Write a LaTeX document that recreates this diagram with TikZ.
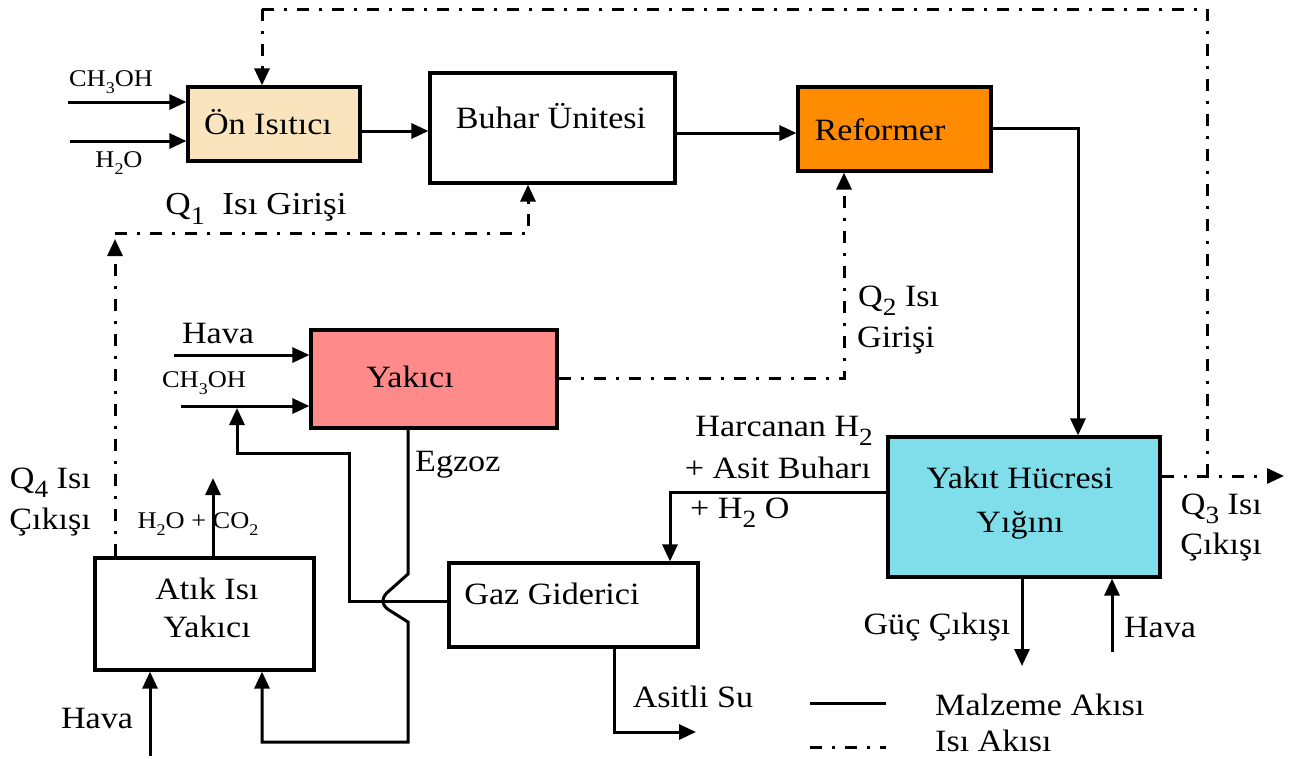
\documentclass[tikz,border=0pt]{standalone}
\usepackage{fontspec}
\usepackage{graphicx}
\setmainfont{Liberation Serif}[FakeStretch=1.1]
\usetikzlibrary{arrows.meta}
\newcommand\fsz[1]{\fontsize{#1}{#1}\selectfont}
\newcommand\chsub[1]{\raisebox{-0.28em}{\scalebox{0.68}{#1}}}
\newcommand\bigsub[1]{\raisebox{-0.3em}{\scalebox{0.8}{#1}}}
\definecolor{beige}{RGB}{250,228,190}
\definecolor{orng}{RGB}{255,140,0}
\definecolor{pinkb}{RGB}{255,138,138}
\definecolor{cyanb}{RGB}{128,222,234}
\tikzset{
  box/.style={draw, line width=3.2pt, inner sep=0pt},
  lbl/.style={inner sep=0pt, font=\fsz{31}},
  small/.style={inner sep=0pt, font=\fsz{24}},
  tip/.style={-{Triangle[length=17pt,width=15pt]}},
  flow/.style={line width=3pt, tip},
  matl/.style={line width=3pt},
  heat/.style={line width=3pt, dash pattern=on 12pt off 10pt on 3pt off 10pt},
  heatarrow/.style={heat, tip},
}
\begin{document}
\begin{tikzpicture}[x=1pt,y=-1pt]
\useasboundingbox (0,0) rectangle (1289,758);

% boxes
\node[box, fill=beige, minimum width=172pt, minimum height=74pt] (on) at (274,124) {};
\node[lbl] (onT) at (268,122) {Ön Isıtıcı};
\node[box, minimum width=245pt, minimum height=110pt] (buhar) at (552.5,128) {};
\node[lbl] (buharT) at (551,116) {Buhar Ünitesi};
\node[box, fill=orng, minimum width=193pt, minimum height=84pt] (ref) at (894.5,129) {};
\node[lbl] (refT) at (880,130) {Reformer};
\node[box, fill=pinkb, minimum width=246pt, minimum height=98pt] (yakici) at (434,379) {};
\node[lbl] (yakiciT) at (410,377) {Yakıcı};
\node[box, fill=cyanb, minimum width=272pt, minimum height=140pt] (yakit) at (1024,507) {};
\node[lbl, align=center, font=\fontsize{31}{44}\selectfont] (yakitT) at (1020,503) {Yakıt Hücresi\\Yığını};
\node[box, minimum width=249pt, minimum height=84pt] (gaz) at (573.5,605) {};
\node[lbl] (gazT) at (552,594) {Gaz Giderici};
\node[box, minimum width=219pt, minimum height=112pt] (atik) at (204.5,614) {};
\node[lbl, align=center, font=\fontsize{31}{38}\selectfont] (atikT) at (207,608) {Atık Isı\\Yakıcı};

% free ends
\coordinate (ch1) at (68,102);
\coordinate (h2o1) at (70,141);
\coordinate (hv1) at (174,355);
\coordinate (ch2) at (181,406);
\coordinate (q3end) at (1284,476);
\coordinate (q3j) at (1207,476);
\coordinate (gucend) at (1022,666);
\coordinate (havaS) at (1112,652);
\coordinate (q1a) at (115,239);
\coordinate (q1b) at (115,233);
\coordinate (co2end) at (213,478);
\coordinate (hava3) at (150,756);
\coordinate (chj) at (237,408);
\coordinate (asend) at (696,732);

% material flows
\draw[flow] (ch1) -- (ch1 -| on.west);
\draw[flow] (h2o1) -- (h2o1 -| on.west);
\draw[flow] (on.east |- 0,131) -- (buhar.west |- 0,131);
\draw[flow] (buhar.east |- 0,133) -- (ref.west |- 0,133);
\draw[flow] (ref.east |- 0,128) -| (yakit.north -| 1078,0);
\draw[flow] (yakit.west |- 0,492) -| (gaz.north -| 670,0);
\draw[flow] (yakit.south -| 1022,0) -- (gucend);
\draw[flow] (havaS) -- (yakit.south -| 1112,0);
\draw[flow] (hv1) -- (hv1 -| yakici.west);
\draw[flow] (ch2) -- (ch2 -| yakici.west);
\draw[flow] (atik.north -| 213,0) -- (co2end);
\draw[flow] (hava3) -- (atik.south -| 150,0);
\draw[flow] (gaz.west |- 0,601) -- (349,601) -- (349,453) -- (237,453) -- (chj);
\draw[flow] (yakici.south -| 408,0) -- (408,574) -- (389,591)
  .. controls (381,597) and (381,605) .. (389,610) -- (408,622) -- (408,742) -| (atik.south -| 262,0);
\draw[flow] (gaz.south -| 614,0) |- (asend);

% heat flows
\draw[heatarrow] (yakit.east |- 0,476) -- (q3end);
\draw[heat] (q3j) -- (1207,9) -- (262,9);
\draw[heatarrow] (262,9) -- (on.north -| 262,0);
\draw[heatarrow] (yakici.east |- 0,378) -| (ref.south -| 844,0);
\draw[heatarrow] (atik.north -| 115,0) -- (q1a);
\draw[heatarrow] (q1b) -| (buhar.south -| 528,0);

% labels
\node[small] (l1) at (111,82) {CH\chsub{3}OH};
\node[small] (l2) at (119,163) {H\chsub{2}O};
\node[lbl, font=\fsz{32}] (l3) at (256,209) {Q\bigsub{1}\ \ Isı Girişi};
\node[lbl] (l4) at (218,333) {Hava};
\node[small] (l5) at (204,383) {CH\chsub{3}OH};
\node[lbl, anchor=west] (l6) at (415,465) {Egzoz};
\node[lbl, anchor=west] (l7) at (858,301) {Q\bigsub{2} Isı};
\node[lbl, anchor=west] (l8) at (857,341) {Girişi};
\node[lbl, anchor=east] (l9) at (91,483) {Q\bigsub{4} Isı};
\node[lbl, anchor=east] (l10) at (91,522) {Çıkışı};
\node[small] (l11) at (198,524) {H\chsub{2}O + CO\chsub{2}};
\node[lbl] (l12) at (97,718) {Hava};
\node[lbl, anchor=east] (l13) at (873,431) {Harcanan H\bigsub{2}};
\node[lbl, anchor=east] (l14) at (871,468) {+ Asit Buharı};
\node[lbl, anchor=west] (l15) at (690,513) {+ H\bigsub{2} O};
\node[lbl, anchor=east] (l16) at (1262,509) {Q\bigsub{3} Isı};
\node[lbl, anchor=east] (l17) at (1262,547) {Çıkışı};
\node[lbl] (l18) at (937,627) {Güç Çıkışı};
\node[lbl] (l19) at (1160,627) {Hava};
\node[lbl] (l20) at (693,697) {Asitli Su};

% legend
\coordinate (lg1a) at (810,703);
\coordinate (lg1b) at (886,703);
\coordinate (lg2a) at (810,747);
\coordinate (lg2b) at (886,747);
\draw[matl] (lg1a) -- (lg1b);
\draw[heat] (lg2a) -- (lg2b);
\node[lbl, anchor=west] (lg1) at (935,705) {Malzeme Akısı};
\node[lbl, anchor=west] (lg2) at (935,741) {Isı Akısı};
\end{tikzpicture}
\end{document}
